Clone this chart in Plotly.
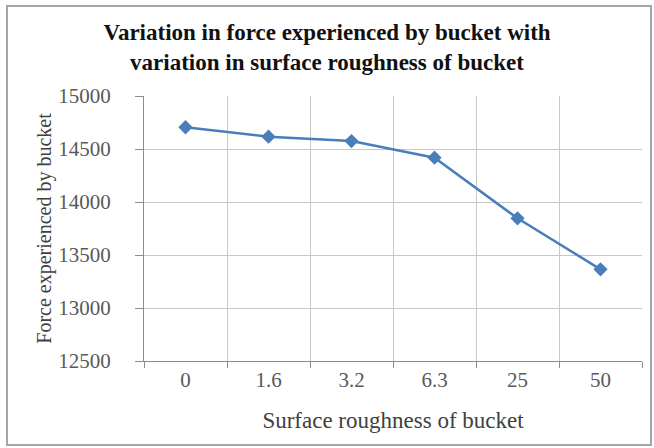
import plotly.graph_objects as go

# Surface roughness categories and the force measured on the bucket
roughness = ["0", "1.6", "3.2", "6.3", "25", "50"]
force = [14705, 14616, 14575, 14418, 13846, 13365]
y_ticks = [12500, 13000, 13500, 14000, 14500, 15000]
y_labels = [str(v) for v in y_ticks]

SERIF = "Liberation Serif, Times New Roman, serif"

fig = go.Figure()
fig.add_trace(go.Scatter(
    x=roughness, y=force, mode="lines+markers",
    line=dict(color="#4A7EBB", width=2.5),
    marker=dict(symbol="diamond", size=11, color="#4A7EBB"),
    showlegend=False,
))

fig.update_layout(
    width=654, height=448,
    margin=dict(l=144, r=12, t=96, b=87),
    paper_bgcolor="white", plot_bgcolor="white",
    title=dict(
        text="<b>Variation in force experienced by bucket with<br>variation in surface roughness of bucket</b>",
        x=0.5, xanchor="center", y=0.91, yanchor="middle",
        font=dict(family=SERIF, size=23, color="#111111"),
    ),
    xaxis=dict(
        type="category", tickson="boundaries",
        showgrid=True, gridcolor="#C8C8C8", gridwidth=1,
        showline=True, linecolor="#8C8C8C", linewidth=1,
        ticks="outside", ticklen=6, tickcolor="#8C8C8C",
        tickfont=dict(family=SERIF, size=21, color="#595959"),
        title=dict(text="Surface roughness of bucket", standoff=20,
                   font=dict(family=SERIF, size=23, color="#404040")),
        range=[-0.5, 5.5],
    ),
    yaxis=dict(
        range=[12500, 15000], tickvals=y_ticks, ticktext=y_labels,
        showgrid=True, gridcolor="#C8C8C8", gridwidth=1,
        showline=True, linecolor="#8C8C8C", linewidth=1,
        ticks="outside", ticklen=8, tickcolor="#8C8C8C",
        ticklabelstandoff=20,
        tickfont=dict(family=SERIF, size=21, color="#595959"),
        title=dict(text="Force experienced by bucket", standoff=1,
                   font=dict(family=SERIF, size=20, color="#404040")),
        zeroline=False,
    ),
)

# Outer chart frame
fig.add_shape(type="rect", xref="paper", yref="paper",
              x0=(7 - 144) / 498, x1=(651 - 144) / 498,
              y0=(361 - 445) / 265, y1=(361 - 6) / 265,
              line=dict(color="#A6A6A6", width=2), layer="below")

fig.write_html("out.html")
